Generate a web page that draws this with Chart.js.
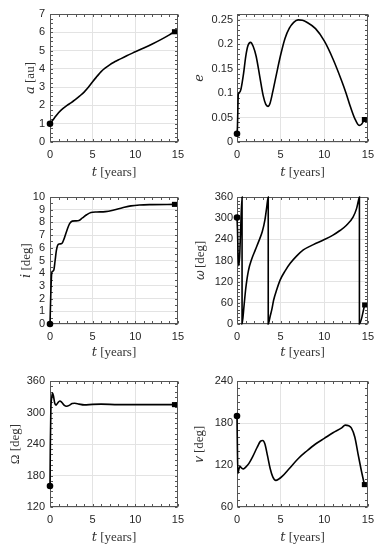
<!DOCTYPE html>
<html><head><meta charset="utf-8">
<script src="https://cdn.jsdelivr.net/npm/chart.js@4/dist/chart.umd.min.js"></script>
<style>
html,body{margin:0;padding:0;background:#fff;width:380px;height:550px;overflow:hidden}
canvas{position:absolute;display:block}
</style></head><body>
<canvas id="c1"></canvas><canvas id="c2"></canvas><canvas id="c3"></canvas>
<canvas id="c4"></canvas><canvas id="c5"></canvas><canvas id="c6"></canvas>
<script>
// ---- time ticks ----
const tTicks = [0, 5, 10, 15];

// ---- semi-major axis a [au] ----
const tA    = [0, 0.5, 1, 1.5, 2, 2.5, 3, 3.5, 4, 4.5, 5, 5.5, 6, 6.5, 7, 7.5, 8, 9, 10, 11, 12, 13, 14, 14.6];
const aVals = [1.0, 1.3, 1.6, 1.82, 2.0, 2.15, 2.33, 2.52, 2.73, 2.99, 3.3, 3.58, 3.85, 4.05, 4.22, 4.36, 4.48, 4.72, 4.93, 5.14, 5.36, 5.6, 5.86, 6.03];
const aTicks = [0, 1, 2, 3, 4, 5, 6, 7];

// ---- eccentricity e ----
const tE    = [0, 0.05, 0.15, 0.3, 0.45, 0.75, 1.0, 1.25, 1.55, 1.85, 2.2, 2.6, 3.0, 3.3, 3.55, 3.8, 4.1, 4.5, 5.0, 5.5, 6.0, 6.5, 7.0, 7.5, 8.0, 9.0, 10.0, 11.0, 12.0, 12.5, 13.0, 13.5, 14.0, 14.3, 14.6];
const eVals = [0.017, 0.03, 0.098, 0.102, 0.108, 0.14, 0.175, 0.197, 0.204, 0.196, 0.175, 0.135, 0.095, 0.077, 0.073, 0.08, 0.103, 0.137, 0.178, 0.212, 0.233, 0.245, 0.25, 0.249, 0.245, 0.232, 0.207, 0.17, 0.125, 0.1, 0.072, 0.048, 0.034, 0.037, 0.046];
const eTicks = [0, 0.05, 0.1, 0.15, 0.2, 0.25];
const eTickLabels = ['0', '0.05', '0.1', '0.15', '0.2', '0.25'];

// ---- inclination i [deg] ----
const tI    = [0, 0.1, 0.2, 0.3, 0.45, 0.6, 0.75, 0.9, 1.1, 1.4, 1.7, 2.0, 2.3, 2.6, 3.0, 3.4, 3.8, 4.3, 4.8, 5.5, 6.5, 7.5, 8.5, 9.5, 10.5, 12, 14.6];
const iVals = [0, 2.5, 4.0, 4.15, 4.25, 5.0, 5.8, 6.2, 6.3, 6.35, 6.8, 7.4, 7.9, 8.1, 8.12, 8.15, 8.35, 8.6, 8.78, 8.82, 8.85, 8.98, 9.15, 9.3, 9.37, 9.4, 9.42];
const iTicks = [0, 1, 2, 3, 4, 5, 6, 7, 8, 9, 10];

// ---- argument of periapsis omega [deg] ----
const tW    = [0, 0.06, 0.12, 0.2, 0.3, 0.42, 0.58, 0.58, 0.8, 1.0, 1.3, 1.7, 2.1, 2.5, 2.9, 3.2, 3.4, 3.58, 3.58, 3.8, 4.0, 4.2, 4.55, 4.95, 5.5, 6.1, 6.85, 7.6, 8.75, 9.9, 11.0, 11.8, 12.55, 13.3, 13.7, 13.9, 14.03, 14.03, 14.63];
const wVals = [302, 265, 200, 165, 190, 270, 360, 0, 50, 100, 150, 185, 210, 235, 262, 295, 330, 360, 0, 22, 42, 68, 97, 125, 150, 172, 193, 210, 225, 238, 252, 265, 280, 303, 327, 348, 360, 0, 54];
const wTicks = [0, 60, 120, 180, 240, 300, 360];

// ---- RAAN Omega [deg] ----
const tO    = [0, 0.04, 0.1, 0.2, 0.3, 0.4, 0.55, 0.7, 0.9, 1.15, 1.4, 1.65, 1.95, 2.3, 2.6, 2.9, 3.4, 4.0, 5.0, 6.0, 8.0, 10.0, 12.0, 14.6];
const OVals = [160, 240, 305, 328, 337, 332, 318, 314, 318, 322, 319, 314, 312, 314, 317, 317.5, 316, 314.5, 315.5, 316, 315, 315, 315, 315];
const OTicks = [120, 180, 240, 300, 360];

// ---- true anomaly nu [deg] ----
const tN    = [0, 0.04, 0.1, 0.2, 0.35, 0.5, 0.75, 1.0, 1.35, 1.8, 2.3, 2.7, 2.95, 3.2, 3.5, 3.8, 4.1, 4.45, 4.8, 5.2, 6.0, 7.0, 8.0, 9.0, 10.0, 11.0, 12.0, 12.4, 12.8, 13.1, 13.5, 13.87, 14.2, 14.6];
const nVals = [190, 150, 108, 113, 118, 116, 114.5, 117, 122, 132, 145, 154, 155, 150, 133, 115, 103, 98, 100, 104, 115, 129, 140, 150, 158, 166, 173, 177, 176, 173, 160, 136, 115, 92];
const nTicks = [60, 120, 180, 240];

const TICK_FONT = {family: "'Liberation Sans', Arial, sans-serif", size: 11};
const TITLE_FONT = {family: "'Liberation Serif', 'DejaVu Serif', serif", size: 13};
const INK = '#262626';

const boxPlugin = {
  id: 'boxMinor',
  beforeDatasetsDraw(chart, args, opts) {
    const {ctx, chartArea: ca, scales} = chart;
    ctx.save();
    ctx.strokeStyle = '#555';
    ctx.lineWidth = 1;
    const L = Math.round(ca.left) + 0.5, R = Math.round(ca.right) - 0.5;
    const T = Math.round(ca.top) + 0.5, B = Math.round(ca.bottom) - 0.5;
    ctx.beginPath();
    const len = 2.5;
    const xs = scales.x, ys = scales.y;
    for (let v = xs.min; v <= xs.max + 1e-9; v += opts.xMinor) {
      const p = Math.round(xs.getPixelForValue(v)) + 0.5;
      ctx.moveTo(p, B); ctx.lineTo(p, B - len);
      ctx.moveTo(p, T); ctx.lineTo(p, T + len);
    }
    for (let v = ys.min; v <= ys.max + 1e-9; v += opts.yMinor) {
      const p = Math.round(ys.getPixelForValue(v)) + 0.5;
      ctx.moveTo(L, p); ctx.lineTo(L + len, p);
      ctx.moveTo(R, p); ctx.lineTo(R - len, p);
    }
    ctx.stroke();
    ctx.strokeRect(L, T, R - L, B - T);
    ctx.restore();
  }
};

function pts(ts, vs) { return ts.map((t, k) => ({x: t, y: vs[k]})); }

function makePanel(p) {
  const cv = document.getElementById(p.id);
  cv.width = p.cw; cv.height = p.ch;
  cv.style.left = p.cx + 'px'; cv.style.top = p.cy + 'px';
  cv.style.width = p.cw + 'px'; cv.style.height = p.ch + 'px';
  const last = p.t.length - 1;
  new Chart(cv, {
    type: 'line',
    data: {
      datasets: [
        {data: pts(p.t, p.v), borderColor: '#000', borderWidth: 1.6, pointRadius: 0,
         cubicInterpolationMode: 'monotone', fill: false, order: 3, clip: 3},
        {type: 'scatter', data: [{x: p.t[0], y: p.v[0]}], pointStyle: 'circle', pointRadius: 3.3,
         backgroundColor: '#000', borderColor: '#000', borderWidth: 0, clip: false, order: 1},
        {type: 'scatter', data: [{x: p.t[last], y: p.v[last]}], pointStyle: 'rect', pointRadius: 3.6,
         backgroundColor: '#000', borderColor: '#000', borderWidth: 0, clip: false, order: 2}
      ]
    },
    options: {
      responsive: false, animation: false, devicePixelRatio: 1,
      layout: {padding: {top: p.padT, right: p.padR, left: 0, bottom: 0}},
      plugins: {legend: {display: false}, tooltip: {enabled: false}, boxMinor: {xMinor: 1, yMinor: p.yMinor}},
      scales: {
        x: {
          type: 'linear', min: 0, max: 15,
          afterBuildTicks: s => { s.ticks = tTicks.map(v => ({value: v})); },
          afterFit: s => { s.height = p.xH; },
          grid: {color: '#e3e3e3', drawTicks: false},
          border: {display: false},
          ticks: {padding: 6, font: TICK_FONT, color: INK, maxRotation: 0, autoSkip: false, callback: v => String(v)},
          title: {display: true, text: '𝑡 [years]', font: TITLE_FONT, color: '#333', padding: {top: 0, bottom: p.xtPad}}
        },
        y: {
          type: 'linear', min: p.ymin, max: p.ymax,
          afterBuildTicks: s => { s.ticks = p.yt.map(v => ({value: v})); },
          afterFit: s => { s.width = p.yW; },
          grid: {color: '#e3e3e3', drawTicks: false},
          border: {display: false},
          ticks: {padding: p.ytickPad, font: TICK_FONT, color: INK, autoSkip: false,
                  callback: (v, k) => p.ytl ? p.ytl[k] : String(v)},
          title: {display: true, text: p.title, font: TITLE_FONT, color: '#333', padding: {top: p.ytPad, bottom: 0}}
        }
      }
    },
    plugins: [boxPlugin]
  });
}

makePanel({id: 'c1', cx: 0, cy: 0, cw: 190, ch: 183, yW: 50, padR: 9, padT: 14, xH: 41, xtPad: 3,
  ytPad: 23, ytickPad: 5, t: tA, v: aVals, ymin: 0, ymax: 7, yt: aTicks, yMinor: 0.25, title: '𝑎 [au]'});
makePanel({id: 'c2', cx: 190, cy: 0, cw: 190, ch: 183, yW: 47, padR: 11, padT: 14, xH: 41, xtPad: 3,
  ytPad: 2, ytickPad: 4, t: tE, v: eVals, ymin: 0, ymax: 0.262, yt: eTicks, ytl: eTickLabels, yMinor: 0.01, title: '𝑒'});
makePanel({id: 'c3', cx: 0, cy: 183, cw: 190, ch: 185, yW: 50, padR: 9, padT: 14, xH: 44, xtPad: 8,
  ytPad: 19, ytickPad: 5, t: tI, v: iVals, ymin: 0, ymax: 10, yt: iTicks, yMinor: 0.5, title: '𝑖 [deg]'});
makePanel({id: 'c4', cx: 190, cy: 183, cw: 190, ch: 185, yW: 47, padR: 11, padT: 14, xH: 44, xtPad: 8,
  ytPad: 3, ytickPad: 4, t: tW, v: wVals, ymin: 0, ymax: 360, yt: wTicks, yMinor: 10, title: '𝜔 [deg]'});
makePanel({id: 'c5', cx: 0, cy: 368, cw: 190, ch: 182, yW: 50, padR: 9, padT: 13, xH: 43, xtPad: 5,
  ytPad: 8, ytickPad: 5, t: tO, v: OVals, ymin: 120, ymax: 360, yt: OTicks, yMinor: 10, title: 'Ω [deg]'});
makePanel({id: 'c6', cx: 190, cy: 368, cw: 190, ch: 182, yW: 47, padR: 11, padT: 13, xH: 43, xtPad: 5,
  ytPad: 2, ytickPad: 4, t: tN, v: nVals, ymin: 60, ymax: 240, yt: nTicks, yMinor: 10, title: '𝜈 [deg]'});
</script>
</body></html>
